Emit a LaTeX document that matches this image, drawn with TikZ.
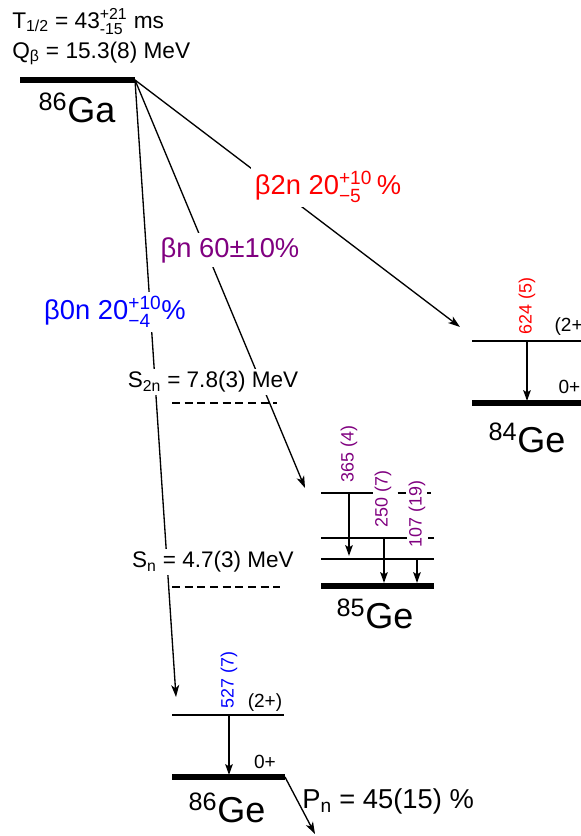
\documentclass[tikz,border=0pt]{standalone}
\usepackage{amsmath}
\usepackage{fontspec}
\setmainfont{Liberation Sans}
\usetikzlibrary{arrows.meta}
\definecolor{bzero}{RGB}{0,0,255}
\definecolor{bone}{RGB}{128,0,128}
\definecolor{btwo}{RGB}{255,0,0}

\begin{document}
\begin{tikzpicture}[x=0.75pt,y=-0.75pt,
  gs/.style={line width=3.8pt},
  lvl/.style={line width=1.5pt},
  sep/.style={line width=1.5pt,dash pattern=on 6pt off 3.5pt},
  feed/.style={line width=1pt,-{Stealth[length=9pt,width=6pt,inset=2.5pt]}},
  gam/.style={line width=1.7pt,-{Stealth[length=8pt,width=5.5pt,inset=1.5pt]}},
  glab/.style={rotate=90,anchor=west,inner sep=1pt,fill=white,font=\fontsize{13.4}{15}\selectfont},
  spin/.style={font=\fontsize{14.3}{16}\selectfont,inner sep=1pt},
  nuc/.style={font=\fontsize{27}{30}\selectfont,inner sep=1pt},
  dec/.style={fill=white,inner sep=3pt,font=\fontsize{20.5}{24}\selectfont},
  sval/.style={fill=white,inner sep=2pt,font=\fontsize{16.9}{19}\selectfont},
  head/.style={anchor=base west,inner sep=0pt,font=\fontsize{17}{20}\selectfont}]
\path[use as bounding box,clip] (0,0) rectangle (581,836);

% parent
\coordinate (gaL) at (20,80);
\coordinate (gaR) at (135,80);
\draw[gs] (gaL) -- (gaR);
\node[nuc] (ga) at (77,108) {\textsuperscript{86}Ga};
\node[head] (thalf) at (12,28) {T\textsubscript{1/2} = 43$^{\text{+21}}_{\text{-15}}$ ms};
\node[head] (qbeta) at (12,58) {Q\textsubscript{β} = 15.3(8) MeV};

% end points of the branches
\coordinate (in84) at (460,327);
\coordinate (in85) at (305,488);
\coordinate (in86) at (176,697);
\draw[feed] (gaR) -- (in84);
\draw[feed] (gaR) -- (in85);
\draw[feed] (gaR) -- (in86);

% branch labels
\node[dec,text=btwo] (twon) at (328,187) {β2n 20$^{\text{+10}}_{\text{−5}}$\,\%};
\node[dec,text=bone] (onen) at (230,250) {βn 60±10\%};
\node[dec,text=bzero] (zeron) at (115,312) {β0n 20$^{\text{+10}}_{\text{−4}}$\%};

% separation energies
\node[sval] (stwo) at (213,382) {S\textsubscript{2n} = 7.8(3) MeV};
\coordinate (stwoL) at (172,403);
\coordinate (stwoR) at (277,403);
\draw[sep] (stwoL) -- (stwoR);
\node[sval] (sone) at (213,562) {S\textsubscript{n} = 4.7(3) MeV};
\coordinate (soneL) at (172,587);
\coordinate (soneR) at (280,587);
\draw[sep] (soneL) -- (soneR);

% 84Ge
\coordinate (a2L) at (472,341);
\coordinate (a2R) at (595,341);
\coordinate (a0L) at (472,403);
\coordinate (a0R) at (595,403);
\draw[lvl] (a2L) -- (a2R);
\draw[gs] (a0L) -- (a0R);
\coordinate (a624t) at (527,341);
\coordinate (a624b) at (527,401);
\draw[gam] (a624t) -- (a624b);
\node[glab,text=btwo] (g624) at (527,336) {624 (5)};
\node[spin,anchor=west] (a2s) at (553,327) {(2+)};
\node[spin,anchor=west] (a0s) at (557,387) {0+};
\node[nuc] (ge84) at (527,438) {\textsuperscript{84}Ge};

% 85Ge
\coordinate (b3L) at (321,493);
\coordinate (b3M) at (385,493);
\coordinate (b3R) at (434,493);
\coordinate (b2L) at (321,538);
\coordinate (b2M) at (403,538);
\coordinate (b2R) at (434,538);
\coordinate (b1L) at (321,559);
\coordinate (b1R) at (434,559);
\coordinate (b0L) at (321,586);
\coordinate (b0R) at (434,586);
\draw[lvl] (b3L) -- (b3M);
\draw[sep] (b3M) -- (b3R);
\draw[lvl] (b2L) -- (b2M);
\draw[sep] (b2M) -- (b2R);
\draw[lvl] (b1L) -- (b1R);
\draw[gs] (b0L) -- (b0R);
\coordinate (b365t) at (349,493);
\coordinate (b365b) at (349,556);
\coordinate (b250t) at (384,538);
\coordinate (b250b) at (384,583);
\coordinate (b107t) at (417,559);
\coordinate (b107b) at (417,583);
\draw[gam] (b365t) -- (b365b);
\draw[gam] (b250t) -- (b250b);
\draw[gam] (b107t) -- (b107b);
\node[glab,text=bone] (g365) at (349,484) {365 (4)};
\node[glab,text=bone] (g250) at (383,529) {250 (7)};
\node[glab,text=bone] (g107) at (417,549) {107 (19)};
\node[nuc] (ge85) at (375,614) {\textsuperscript{85}Ge};

% 86Ge
\coordinate (c2L) at (172,715);
\coordinate (c2R) at (284,715);
\coordinate (c0L) at (172,777);
\coordinate (c0R) at (285,777);
\draw[lvl] (c2L) -- (c2R);
\draw[gs] (c0L) -- (c0R);
\coordinate (c527t) at (229,715);
\coordinate (c527b) at (229,775);
\draw[gam] (c527t) -- (c527b);
\node[glab,text=bzero] (g527) at (229,710) {527 (7)};
\node[spin] (c2s) at (265,703) {(2+)};
\node[spin] (c0s) at (265,762) {0+};
\node[nuc] (ge86) at (227,808) {\textsuperscript{86}Ge};
\coordinate (pnend) at (315,834);
\draw[feed] (c0R) -- (pnend);
\node[head,font=\fontsize{20.5}{24}\selectfont] (pn) at (302,808) {P\textsubscript{n} = 45(15) \%};
\end{tikzpicture}
\end{document}
